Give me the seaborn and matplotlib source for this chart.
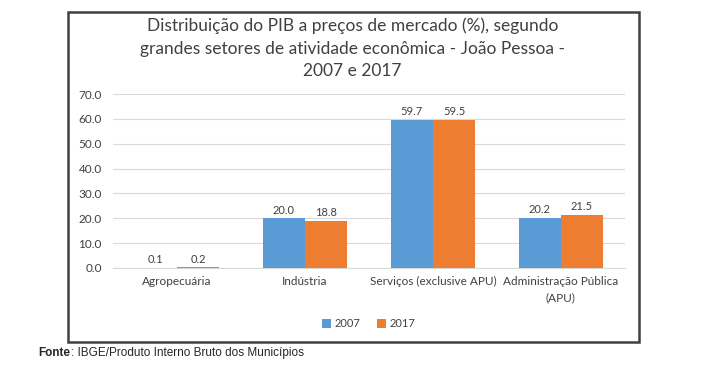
import pandas as pd
import matplotlib.pyplot as plt
import seaborn as sns
from matplotlib.patches import Rectangle

# dados
setores = ['Agropecuária', 'Indústria', 'Serviços (exclusive APU)', 'Administração Pública\n(APU)']
anos = ['2007', '2017']
valores_2007 = [0.1, 20.0, 59.7, 20.2]
valores_2017 = [0.2, 18.8, 59.5, 21.5]

df = pd.DataFrame({
    'setor': setores * 2,
    'ano': [anos[0]] * 4 + [anos[1]] * 4,
    'valor': valores_2007 + valores_2017,
})

sns.set_style('white')
plt.rcParams['font.family'] = ['Lato', 'DejaVu Sans']

fig = plt.figure(figsize=(7.04, 3.72), dpi=100)
ax = fig.add_axes([0.1605, 0.2796, 0.727, 0.4677])

sns.barplot(data=df, x='setor', y='valor', hue='ano',
            palette={'2007': '#5B9BD5', '2017': '#ED7D31'},
            width=0.66, gap=0, saturation=1, linewidth=0, ax=ax, zorder=3)

for cont in ax.containers:
    ax.bar_label(cont, fmt='%.1f', fontsize=8, color='#404040', padding=2)

ax.set_ylim(0, 70)
ax.set_yticks(range(0, 71, 10))
ax.set_yticklabels([f'{v:.1f}' for v in range(0, 71, 10)], fontsize=8.5, color='#404040')
ax.tick_params(axis='x', labelsize=8.5, colors='#404040', length=0, pad=6)
ax.tick_params(axis='y', length=0, pad=8)
for lbl in ax.get_xticklabels():
    lbl.set_linespacing(1.5)
ax.set_xlabel('')
ax.set_ylabel('')
ax.grid(axis='y', color='#D9D9D9', linewidth=0.8, zorder=0)
for s in ['top', 'right', 'left']:
    ax.spines[s].set_visible(False)
ax.spines['bottom'].set_color('#D9D9D9')

leg = ax.legend(loc='center', bbox_to_anchor=(0.5, -0.32), ncol=2, frameon=False,
                fontsize=8, handlelength=0.8, handleheight=0.8, columnspacing=1.5,
                handletextpad=0.3)
for t in leg.get_texts():
    t.set_color('#404040')

fig.text(0.501, 0.87,
         'Distribuição do PIB a preços de mercado (%), segundo\n'
         'grandes setores de atividade econômica - João Pessoa -\n'
         '2007 e 2017',
         ha='center', va='center', fontsize=12.5, color='#404040', linespacing=1.5)

# moldura
fig.patches.append(Rectangle((0.0966, 0.0806), 0.8111, 0.8871, transform=fig.transFigure,
                             fill=False, edgecolor='#404040', linewidth=1.8))

fonte = fig.text(0.055, 0.052, 'Fonte', fontsize=8.5, fontweight='bold',
                 family=['Liberation Sans'], va='center')
ax.annotate(': IBGE/Produto Interno Bruto dos Municípios', xy=(1, 0.5), xycoords=fonte,
            va='center', ha='left', fontsize=8.5, family=['Liberation Sans'],
            annotation_clip=False)

plt.savefig('out.png', dpi=100)
